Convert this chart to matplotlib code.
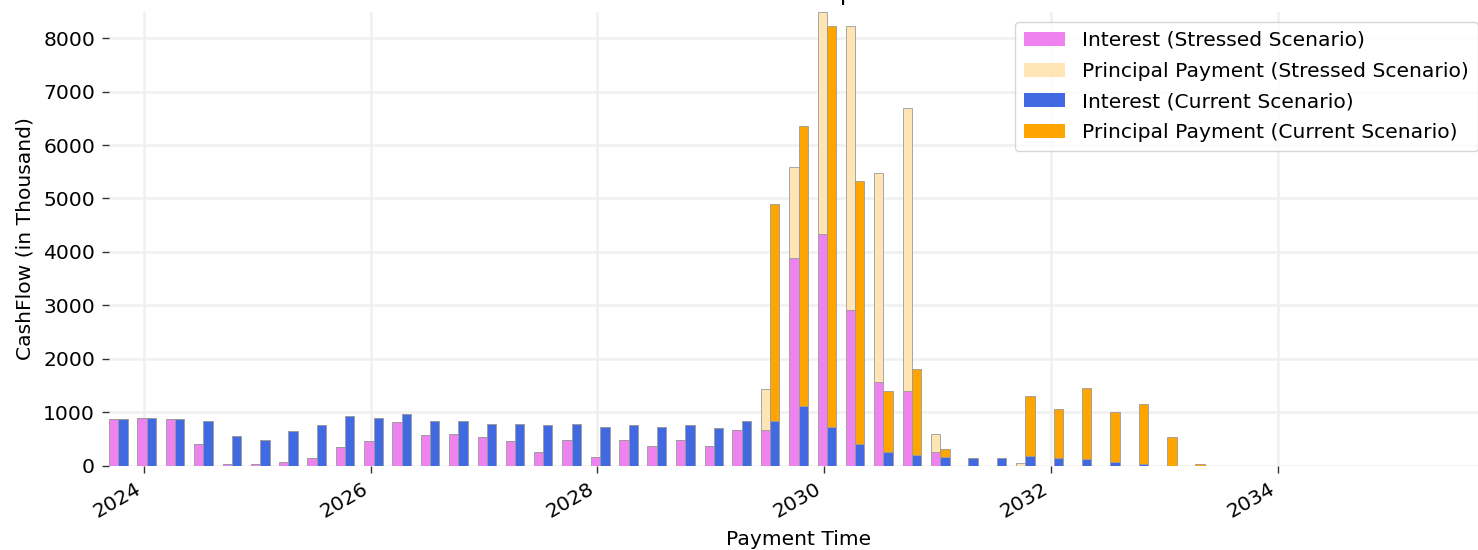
import matplotlib
matplotlib.use("Agg")
import matplotlib.pyplot as plt
import matplotlib.dates as mdates
from matplotlib.patches import Patch
import numpy as np
import pandas as pd

# ---- data (values in thousands) ----
payment_dates = pd.date_range("2023-10-01", "2035-10-01", freq="3MS") + pd.Timedelta(days=9)

stressed_interest = [865, 890, 865, 397, 35, 35, 65, 140, 340, 453, 809, 565, 590, 528, 453, 253,
                     472, 165, 472, 365, 472, 365, 665, 665, 3891, 4335, 2918, 1558, 1390, 253,
                     0, 0, 0, 0, 0, 0, 0, 0, 0, 0, 0, 0, 0, 0, 0, 0, 0, 0, 0]
stressed_principal = [0, 0, 0, 0, 0, 0, 0, 0, 0, 0, 0, 0, 0, 0, 0, 0,
                      0, 0, 0, 0, 0, 0, 0, 762, 1693, 4163, 5307, 3914, 5300, 331,
                      0, 0, 40, 0, 0, 0, 0, 0, 0, 0, 0, 0, 0, 0, 0, 0, 0, 0, 0]
current_interest = [865, 890, 865, 840, 558, 472, 640, 752, 920, 890, 970, 840, 840, 783, 783, 752,
                    783, 727, 752, 727, 752, 697, 833, 833, 1114, 727, 397, 253, 197, 165,
                    140, 140, 172, 140, 115, 65, 35, 0, 0, 0, 0, 0, 0, 0, 0, 0, 0, 0, 0]
current_principal = [0, 0, 0, 0, 0, 0, 0, 0, 0, 0, 0, 0, 0, 0, 0, 0,
                     0, 0, 0, 0, 0, 0, 0, 4058, 5249, 7498, 4936, 1137, 1610, 144,
                     0, 0, 1135, 910, 1329, 930, 1109, 527, 30, 0, 0, 0, 0, 0, 0, 0, 0, 0, 0]

labels = ["Interest (Stressed Scenario)", "Principal Payment (Stressed Scenario)",
          "Interest (Current Scenario)", "Principal Payment (Current Scenario)"]
colors = ["violet", "moccasin", "royalblue", "orange"]

FS = 14.6

# ---- figure ----
fig = plt.figure(figsize=(14.78, 5.5), dpi=100)
ax = fig.add_axes([108.9 / 1478, 84.5 / 550, (1488 - 108.9) / 1478, (465.5 - 11.7) / 550])

half = pd.Timedelta(days=15)
bw = 30
x_s = payment_dates - half
x_c = payment_dates + half
ekw = dict(edgecolor="#9a9a9a", linewidth=0.6)
ax.bar(x_s, stressed_interest, width=bw, color=colors[0], **ekw)
ax.bar(x_s, stressed_principal, width=bw, bottom=stressed_interest, color=colors[1], **ekw)
ax.bar(x_c, current_interest, width=bw, color=colors[2], **ekw)
ax.bar(x_c, current_principal, width=bw, bottom=current_interest, color=colors[3], **ekw)

ax.margins(x=0, y=0)

ax.set_axisbelow(True)
ax.grid(True, color="#f0f0f0", linewidth=1.8)
for s in ax.spines.values():
    s.set_visible(False)

ax.xaxis.set_major_locator(mdates.YearLocator(2))
ax.xaxis.set_major_formatter(mdates.DateFormatter("%Y"))
ax.set_yticks(np.arange(0, 8001, 1000))
ax.tick_params(axis="both", labelsize=FS, length=5, width=1, pad=5, color="#333333")
plt.setp(ax.get_xticklabels(), rotation=30, ha="right")

ax.set_xlabel("Payment Time", fontsize=FS, labelpad=5.8)
ax.set_ylabel("CashFlow (in Thousand)", fontsize=FS, labelpad=6.5)
ax.set_title("Cashflow Comparison", fontsize=17.3, pad=8.64)

handles = [Patch(facecolor=c, label=l) for c, l in zip(colors, labels)]
ax.legend(handles=handles, loc="upper right", fontsize=FS, frameon=True,
          labelspacing=0.58, handlelength=2.0, handletextpad=0.85, borderpad=0.45)

fig.savefig("out.png", dpi=100)
